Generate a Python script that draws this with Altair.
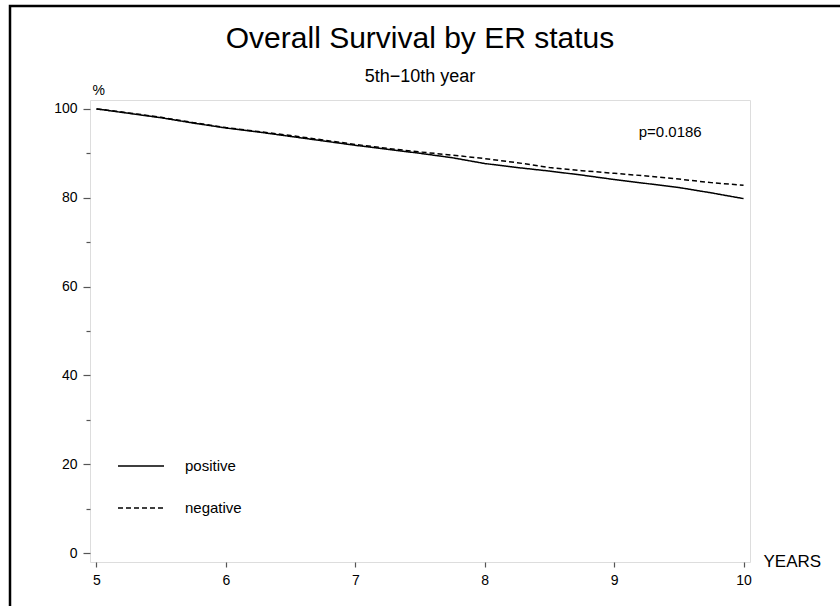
import altair as alt
import pandas as pd

years = [5.0, 5.25, 5.5, 5.75, 6.0, 6.25, 6.5, 6.75, 7.0, 7.25, 7.5,
         7.75, 8.0, 8.25, 8.5, 8.75, 9.0, 9.25, 9.5, 9.75, 10.0]
positive = [100.0, 99.0, 98.0, 96.8, 95.7, 94.8, 93.8, 92.8, 91.8, 90.9, 90.0,
            89.0, 87.7, 86.8, 86.0, 85.1, 84.1, 83.2, 82.3, 81.1, 79.8]
negative = [100.0, 99.1, 98.1, 96.9, 95.8, 94.9, 94.0, 93.0, 92.0, 91.1, 90.3,
            89.6, 88.8, 87.9, 86.8, 86.1, 85.5, 84.9, 84.2, 83.4, 82.8]
groups = ["positive", "negative"]
x_ticks = [5, 6, 7, 8, 9, 10]
y_ticks = list(range(0, 101, 5))
p_text = ["p=0.0186"]
p_x = [9.19]
p_y = [94.8]
title_text = "Overall Survival by ER status"
subtitle_text = "5th\u221210th year"

rows = []
for g, vals in zip(groups, [positive, negative]):
    for yr, v in zip(years, vals):
        rows.append({"year": yr, "pct": v, "group": g})
df = pd.DataFrame(rows)
pdf = pd.DataFrame({"x": p_x, "y": p_y, "t": p_text})

FONT = "Liberation Sans"
xscale = alt.Scale(domain=[4.95, 10.05], nice=False, zero=False)
yscale = alt.Scale(domain=[-2, 102], nice=False, zero=False)

lines = alt.Chart(df).mark_line(color="black", strokeWidth=1.5).encode(
    x=alt.X("year:Q", scale=xscale,
            axis=alt.Axis(values=x_ticks, title="YEARS", titleAngle=0,
                          titleX=673, titleY=-1, titleAlign="left",
                          titleBaseline="middle", titleFontSize=17,
                          titleFont=FONT, titleFontWeight="normal",
                          titleColor="black",
                          domain=False, grid=False, tickSize=5,
                          tickColor="#555", tickWidth=1.2,
                          labelFontSize=14, labelFont=FONT, labelColor="black",
                          labelPadding=6, format="d")),
    y=alt.Y("pct:Q", scale=yscale,
            axis=alt.Axis(values=y_ticks, title="%", titleAngle=0,
                          titleX=2, titleY=-3, titleAlign="left",
                          titleBaseline="bottom", titleFontSize=14,
                          titleFont=FONT, titleFontWeight="normal",
                          titleColor="black",
                          domain=False, grid=False,
                          tickSize={"condition": {"test": "datum.value % 20 === 0", "value": 7}, "value": 4},
                          tickColor="#555", tickWidth=1.2,
                          labelExpr="datum.value % 20 === 0 ? datum.label : ''",
                          labelFontSize=14, labelFont=FONT, labelColor="black",
                          labelPadding=6, format="d")),
    strokeDash=alt.StrokeDash("group:N",
                              scale=alt.Scale(domain=groups, range=[[1, 0], [5, 3]]),
                              legend=alt.Legend(title=None, orient="none",
                                                legendX=27, legendY=342,
                                                symbolType="stroke",
                                                symbolSize=2116,
                                                symbolStrokeColor="black",
                                                symbolStrokeWidth=1.3,
                                                labelFontSize=15, labelFont=FONT,
                                                labelColor="black",
                                                labelOffset=20, rowPadding=10,
                                                padding=0)),
    detail="group:N",
)

ptext = alt.Chart(pdf).mark_text(align="left", baseline="middle", fontSize=15,
                                 font=FONT, color="black").encode(
    x=alt.X("x:Q", scale=xscale), y=alt.Y("y:Q", scale=yscale), text="t:N")

title = alt.Chart(alt.Data(values=[{"t": title_text}])).mark_text(
    align="center", baseline="alphabetic", fontSize=30, font=FONT, color="black").encode(
    x=alt.value(330), y=alt.value(-52), text="t:N")
subtitle = alt.Chart(alt.Data(values=[{"t": subtitle_text}])).mark_text(
    align="center", baseline="alphabetic", fontSize=18, font=FONT, color="black").encode(
    x=alt.value(330), y=alt.value(-18), text="t:N")

border = alt.Chart(alt.Data(values=[{}])).mark_rect(
    fill=None, stroke="black", strokeWidth=2.5).encode(
    x=alt.value(-80), x2=alt.value(790), y=alt.value(-94), y2=alt.value(540))

chart = alt.layer(lines, ptext, title, subtitle, border).properties(
    width=660, height=462,
    autosize=alt.AutoSizeParams(type="none"),
    padding={"left": 90, "top": 100, "right": 90, "bottom": 44},
).configure_view(stroke="#555", strokeWidth=1.5).configure(background="white")

chart.save("out.html", embed_options={"renderer": "svg", "actions": False})
